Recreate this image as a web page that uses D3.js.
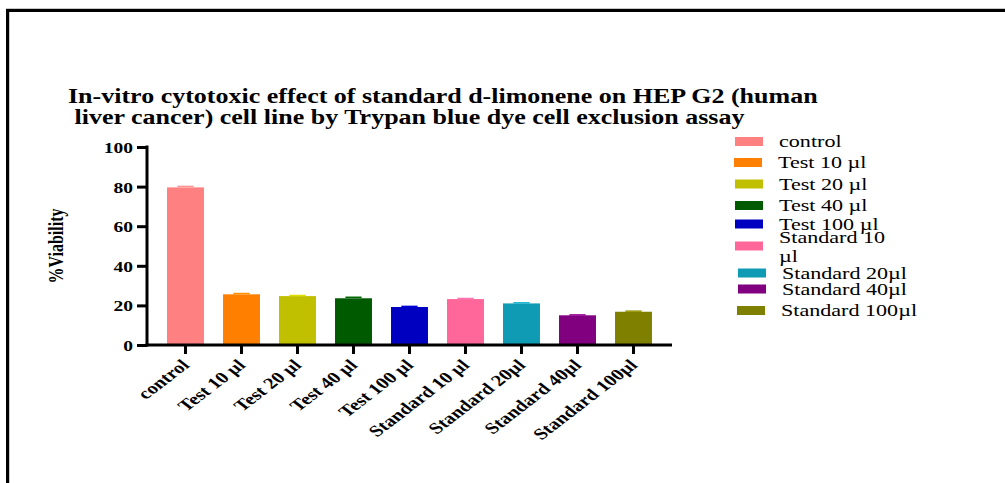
<!DOCTYPE html>
<html>
<head>
<meta charset="utf-8">
<script src="https://cdn.jsdelivr.net/npm/d3@7"></script>
<style>
  html, body { margin: 0; padding: 0; background: #fff; }
  svg { display: block; }
  text { font-family: "Liberation Serif", "Times New Roman", serif; fill: #000; }
</style>
</head>
<body>
<svg id="chart" width="1005" height="483"></svg>
<script>
// Treatment groups and their mean % viability (with SEM)
const groups = ["control", "Test 10 µl", "Test 20 µl", "Test 40 µl", "Test 100 µl",
                "Standard 10 µl", "Standard 20µl", "Standard 40µl", "Standard 100µl"];
const viability = [79.6, 25.6, 24.7, 23.6, 19.2, 23.2, 21.0, 15.0, 16.8];
const sem = [0.5, 0.4, 0.3, 0.5, 0.3, 0.3, 0.3, 0.2, 0.3];
const barColors = ["#ff8080", "#ff8000", "#c0c000", "#005a00", "#0000c0",
                   "#ff6699", "#0f9bb4", "#800080", "#808000"];
const legendLabels = ["control", "Test 10 µl", "Test 20 µl", "Test 40 µl", "Test 100 µl",
                      ["Standard 10", "µl"], "Standard 20µl", "Standard 40µl", "Standard 100µl"];
const yTicks = [0, 20, 40, 60, 80, 100];
const titleLines = ["In-vitro cytotoxic effect of standard d-limonene on HEP G2 (human",
                    " liver cancer) cell line by Trypan blue dye cell exclusion assay"];

// Text is drawn slightly widened horizontally
const SX = 1.3;

const svg = d3.select("#chart");

// Page frame
svg.append("path")
  .attr("d", "M7.5,483 V10.5 H1005")
  .attr("fill", "none").attr("stroke", "#000").attr("stroke-width", 3);
svg.append("line").attr("x1", 6).attr("x2", 1005).attr("y1", 8.5).attr("y2", 8.5)
  .attr("stroke", "#c8c8c8").attr("stroke-width", 1);
svg.append("line").attr("x1", 9.5).attr("x2", 9.5).attr("y1", 12).attr("y2", 483)
  .attr("stroke", "#c8c8c8").attr("stroke-width", 1);

// Title
svg.append("g").selectAll("text").data(titleLines).join("text")
  .attr("transform", (d, i) => `translate(68,${103 + i * 21}) scale(${SX},1)`)
  .attr("font-size", 20).attr("font-weight", "bold")
  .attr("xml:space", "preserve")
  .style("white-space", "pre")
  .text(d => d);

// Scales
const x = d3.scaleBand().domain(groups).range([147, 672])
  .paddingInner(0.34).paddingOuter(0.3575);
const y = d3.scaleLinear().domain([0, 100]).range([345, 147]);

// Bars
svg.append("g").selectAll("rect").data(groups).join("rect")
  .attr("x", d => x(d))
  .attr("width", x.bandwidth())
  .attr("y", (d, i) => y(viability[i]))
  .attr("height", (d, i) => y(0) - y(viability[i]))
  .attr("fill", (d, i) => barColors[i]);

// Error caps (SEM)
svg.append("g").selectAll("line").data(groups).join("line")
  .attr("x1", d => x(d) + x.bandwidth() * 0.28)
  .attr("x2", d => x(d) + x.bandwidth() * 0.72)
  .attr("y1", (d, i) => y(viability[i] + sem[i]))
  .attr("y2", (d, i) => y(viability[i] + sem[i]))
  .attr("stroke", (d, i) => d3.color(barColors[i]).brighter(0.4))
  .attr("stroke-width", 1.5);

// Y axis
const yAxis = svg.append("g").attr("transform", "translate(147,0)")
  .call(d3.axisLeft(y).tickValues(yTicks).tickSize(10).tickSizeOuter(0).tickPadding(14));
yAxis.select(".domain").attr("stroke-width", 3).attr("d", `M0,${y(100) - 1.5}V${y(0) + 1.5}`);
yAxis.selectAll(".tick line").attr("stroke-width", 3);
yAxis.selectAll(".tick text")
  .attr("x", null).attr("dy", null)
  .attr("transform", `translate(-14,5.5) scale(${SX},1)`)
  .attr("font-size", 15).attr("font-weight", "bold")
  .attr("font-family", "Liberation Serif, serif");

// X axis
const xAxis = svg.append("g").attr("transform", "translate(0,345)")
  .call(d3.axisBottom(x).tickSize(9).tickSizeOuter(0));
xAxis.select(".domain").attr("stroke-width", 3).attr("d", "M145.5,0H672");
xAxis.selectAll(".tick line").attr("stroke-width", 3);
xAxis.selectAll(".tick text")
  .attr("y", null).attr("dy", null)
  .attr("text-anchor", "end")
  .attr("transform", `translate(5,21) scale(${SX},1) rotate(-45)`)
  .attr("font-size", 16).attr("font-weight", "bold")
  .attr("font-family", "Liberation Serif, serif");

// Y axis title
svg.append("text")
  .attr("transform", `translate(63,246) scale(${SX},1) rotate(-90)`)
  .attr("text-anchor", "middle")
  .attr("font-size", 16).attr("font-weight", "bold")
  .text("%Viability");

// Legend
const legendRowY = [141.5, 162.5, 184, 205.5, 224, 246, 273, 289, 310.5];
const legendShift = [0, -1, 0, 0, 0, 0, 3, 3, 2];
const legend = svg.append("g").selectAll("g").data(groups).join("g")
  .attr("transform", (d, i) => `translate(${735 + legendShift[i]},${legendRowY[i]})`);
legend.append("rect")
  .attr("x", 0).attr("y", -4.5).attr("width", 28).attr("height", 9)
  .attr("fill", (d, i) => barColors[i]);
legend.each(function (d, i) {
  const lbl = legendLabels[i];
  const lines = Array.isArray(lbl) ? lbl : [lbl];
  const g = d3.select(this);
  lines.forEach((t, j) => {
    const off = lines.length > 1 ? (j === 0 ? -9 : 10) : 0;
    g.append("text")
      .attr("transform", `translate(44,${off + 5.5}) scale(${SX},1)`)
      .attr("font-size", 17)
      .text(t);
  });
});
</script>
</body>
</html>
